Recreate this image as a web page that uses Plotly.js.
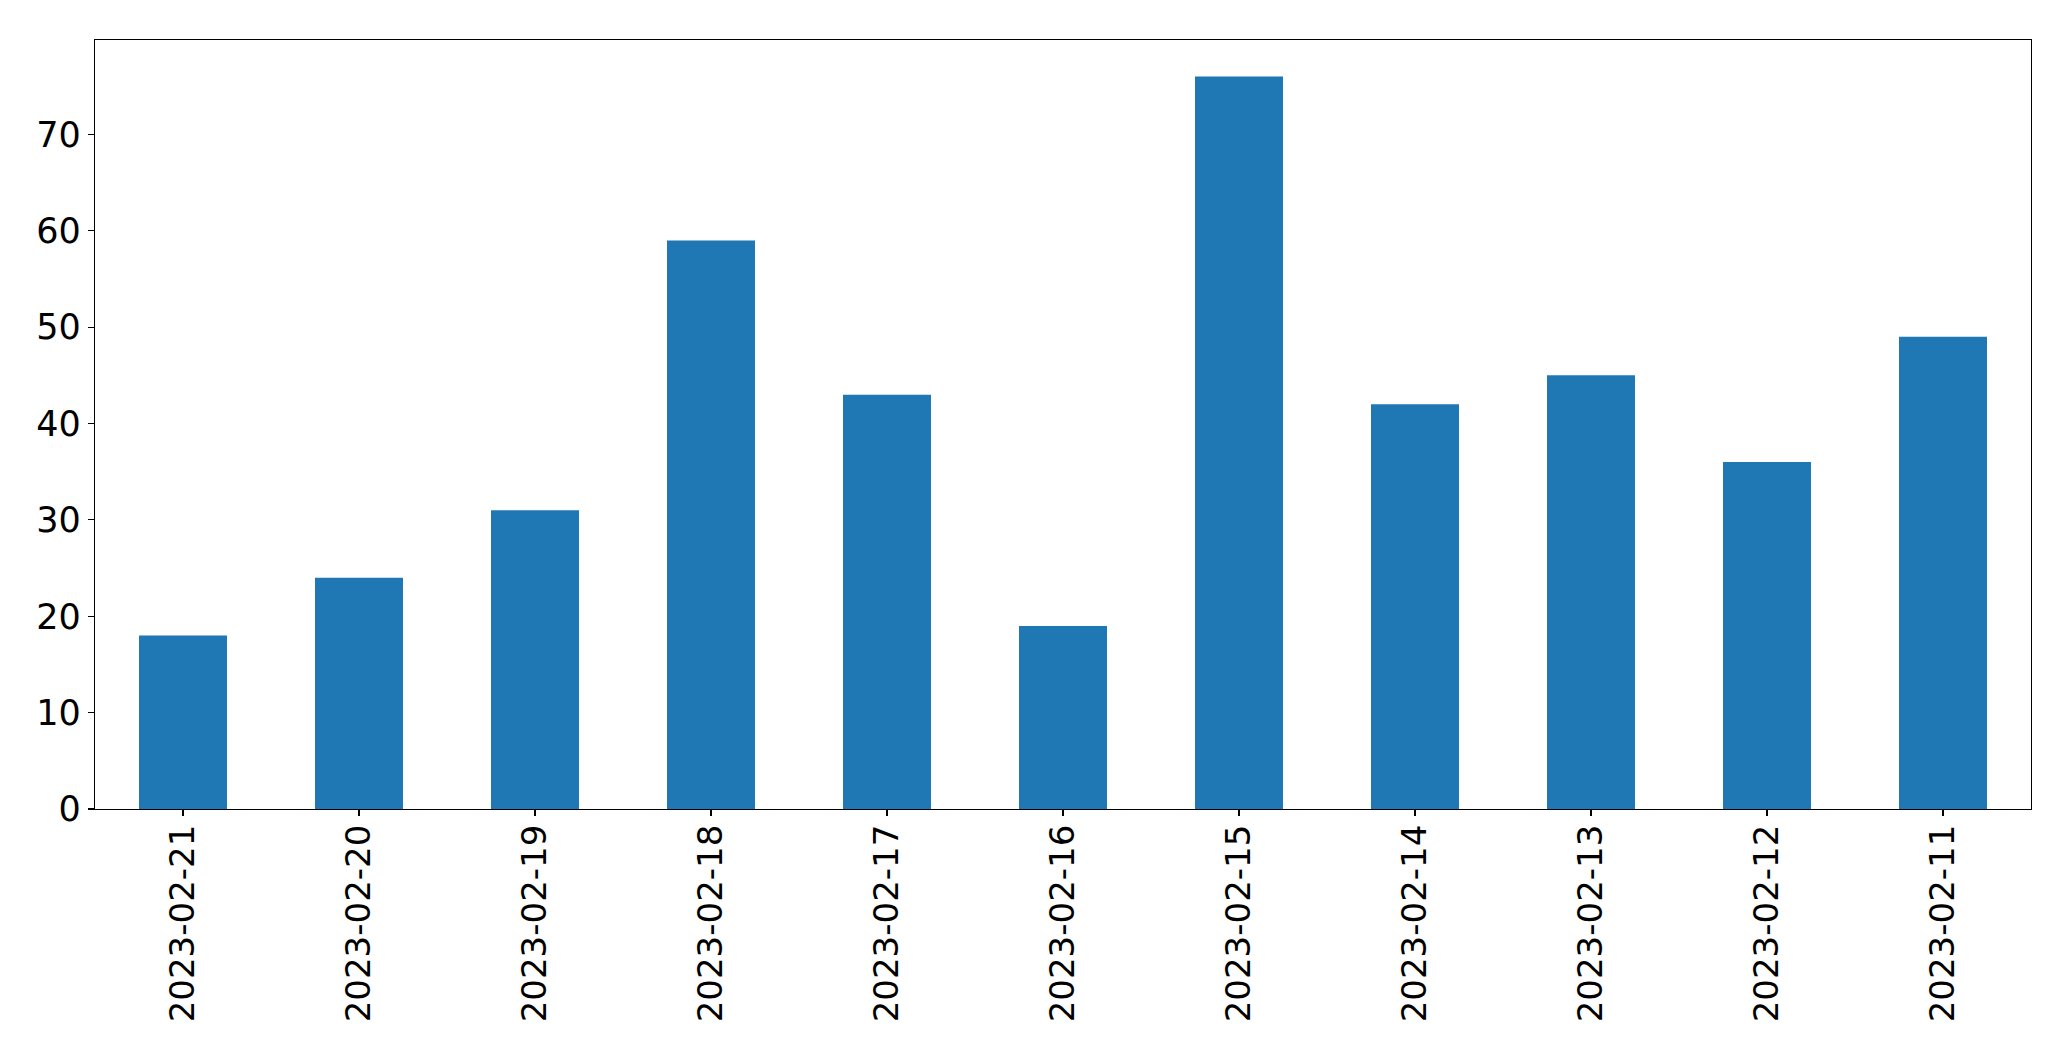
<!DOCTYPE html>
<html>
<head>
<meta charset="utf-8">
<script src="https://cdn.plot.ly/plotly-3.0.1.min.js"></script>
<style>html,body{margin:0;padding:0;background:#fff;}#chart{width:2071px;height:1061px;}</style>
</head>
<body>
<div id="chart"></div>
<script>
const dates = ["2023-02-21","2023-02-20","2023-02-19","2023-02-18","2023-02-17","2023-02-16","2023-02-15","2023-02-14","2023-02-13","2023-02-12","2023-02-11"];
const counts = [18, 24, 31, 59, 43, 19, 76, 42, 45, 36, 49];
const yTicks = [0, 10, 20, 30, 40, 50, 60, 70];

const trace = {
  type: 'bar',
  x: dates,
  y: counts,
  marker: {color: '#1f77b4', line: {width: 0}},
  hoverinfo: 'x+y'
};

const font = {family: 'DejaVu Sans, sans-serif', size: 34, color: '#000'};
const yfont = {family: 'DejaVu Sans, sans-serif', size: 35, color: '#000'};

const layout = {
  width: 2071, height: 1061,
  margin: {l: 94.5, r: 39.5, t: 39.5, b: 252, pad: 0},
  paper_bgcolor: '#fff', plot_bgcolor: '#fff',
  showlegend: false,
  bargap: 0.5,
  font: font,
  xaxis: {
    type: 'category',
    range: [-0.5, 10.5],
    showline: true, mirror: true, linecolor: '#000', linewidth: 1.1,
    showgrid: false, zeroline: false,
    ticks: 'outside', ticklen: 6, tickwidth: 1.1, tickcolor: '#000',
    tickangle: -90,
    ticklabelstandoff: -5,
    tickfont: font,
    automargin: false
  },
  yaxis: {
    range: [0, 79.8],
    tickvals: yTicks,
    ticktext: yTicks.map(String),
    showline: true, mirror: true, linecolor: '#000', linewidth: 1.1,
    showgrid: false, zeroline: false,
    ticks: 'outside', ticklen: 6, tickwidth: 1.1, tickcolor: '#000',
    tickfont: yfont,
    automargin: false
  }
};

Plotly.newPlot('chart', [trace], layout, {displayModeBar: false, staticPlot: true});
</script>
</body>
</html>
